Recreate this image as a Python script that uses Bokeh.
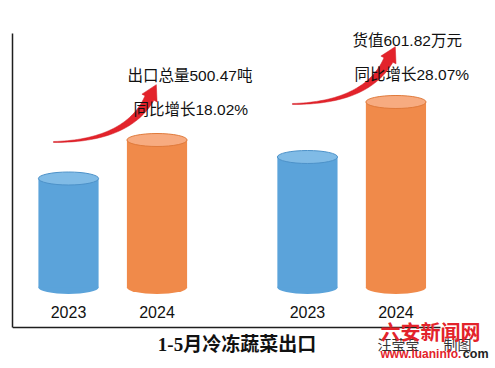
import math
from bokeh.plotting import figure
from bokeh.models import Range1d, FixedTicker, Label, ColumnDataSource
from bokeh.core.properties import value
from bokeh.embed import file_html
from bokeh.resources import INLINE

# ---------------- data ----------------
years = ["2023", "2024"]
qty = [424.06, 500.47]          # 出口总量 (吨): 2024 = 500.47, 2023 = 500.47 / 1.1802
val = [469.92, 601.82]          # 货值 (万元): 2024 = 601.82, 2023 = 601.82 / 1.2807
qty_notes = ["出口总量500.47吨", "同比增长18.02%"]
val_notes = ["货值601.82万元", "同比增长28.07%"]
title_text = "1-5月冷冻蔬菜出口"
credit = ["汪莹莹", "制图"]
site = ["六安新闻网", "www.luaninfo.", "com"]

# ---------------- layout constants ----------------
W, H = 495, 368
FL, FR, FT, FB = 12, 495, 0, 362          # frame edges in page pixels
AXIS_Y = 327                               # baseline (x axis line) in page pixels
X0, XU = 68, 88.5                          # x origin / unit in page pixels
XS, XE = (FL - X0) / XU, (FR - X0) / XU
QS, QE, QBASE = 58.83, 777.39, 207.7       # quantity scale (left group)
VS, VE, VBASE = -22.84, 845.18, 157.0      # value scale (right group)
BW = 0.68
g1 = [0.0, 1.0]
g2 = [2.7, 3.7]

BLUE, BLUE_TOP, BLUE_EDGE = "#5ba3da", "#80bbe6", "#4d92c9"
ORG, ORG_TOP, ORG_EDGE = "#f08a4a", "#f7ab80", "#e07a3b"
RED = "#e3232b"

CJK = "Liberation Sans, Noto Sans CJK SC"


def xd(px):
    return (px - X0) / XU


def yq(py):
    return QS + (FB - py) * (QE - QS) / (FB - FT)


def px_of_q(v):
    return FB - (v - QS) * (FB - FT) / (QE - QS)


def px_of_v(v):
    return FB - (v - VS) * (FB - FT) / (VE - VS)


p = figure(width=W, height=H, x_range=Range1d(XS, XE), y_range=Range1d(QS, QE),
           output_backend="svg", toolbar_location=None,
           min_border=0, min_border_left=FL, min_border_right=W - FR,
           min_border_top=FT, min_border_bottom=H - FB,
           outline_line_color=None, background_fill_color="white",
           border_fill_color="white")
p.extra_y_ranges = {"val": Range1d(VS, VE)}
p.grid.visible = False

for ax, bounds in ((p.xaxis, (XS, xd(440))), (p.yaxis, (yq(AXIS_Y), yq(33)))):
    ax.ticker = FixedTicker(ticks=[])
    ax.major_label_text_font_size = "0px"
    ax.major_label_standoff = 0
    ax.major_tick_in = 0
    ax.major_tick_out = 0
    ax.minor_tick_in = 0
    ax.minor_tick_out = 0
    ax.axis_line_color = "#1e1e1e"
    ax.axis_line_width = 1.5
    ax.bounds = bounds
p.xaxis.fixed_location = yq(AXIS_Y)


# ---------------- cylinders ----------------
def cylinders(xs, vals, base, rname):
    src = ColumnDataSource(dict(x=xs, top=vals, body=[BLUE, ORG],
                                cap=[BLUE_TOP, ORG_TOP], edge=[BLUE_EDGE, ORG_EDGE]))
    kw = {} if rname is None else {"y_range_name": rname}
    p.ellipse(x="x", y=base, width=BW, height=13, height_units="screen",
              fill_color="body", line_color=None, source=src, **kw)
    p.vbar(x="x", top="top", bottom=base, width=BW, fill_color="body",
           line_color=None, source=src, **kw)
    p.ellipse(x="x", y="top", width=BW, height=13, height_units="screen",
              fill_color="cap", line_color="edge", line_width=1, source=src, **kw)


cylinders(g1, qty, QBASE, None)
cylinders(g2, val, VBASE, "val")

# year labels
p.text(x=g1 + g2, y=[yq(311.5)] * 4, text=years + years, text_align="center",
       text_baseline="middle", text_font=value(CJK), text_font_size="16px",
       text_color="#111111")


# ---------------- red arrows ----------------
def arrow(bar_x, bar_top_px):
    bx = X0 + bar_x * XU
    P2 = (bx - 7.5, bar_top_px - 42)
    C = (P2[0] - 22, P2[1] + 43)
    P0 = (P2[0] - 96, P2[1] + 44)
    left, right = [], []
    n = 40
    for i in range(n + 1):
        t = i / n
        bxp = (1 - t) ** 2 * P0[0] + 2 * (1 - t) * t * C[0] + t * t * P2[0]
        byp = (1 - t) ** 2 * P0[1] + 2 * (1 - t) * t * C[1] + t * t * P2[1]
        dx = 2 * (1 - t) * (C[0] - P0[0]) + 2 * t * (P2[0] - C[0])
        dy = 2 * (1 - t) * (C[1] - P0[1]) + 2 * t * (P2[1] - C[1])
        L = math.hypot(dx, dy)
        nx, ny = -dy / L, dx / L
        w = 0.5 + 4.5 * t ** 1.3
        left.append((bxp + nx * w, byp + ny * w))
        right.append((bxp - nx * w, byp - ny * w))
    dx, dy = P2[0] - C[0], P2[1] - C[1]
    L = math.hypot(dx, dy)
    ux, uy = dx / L, dy / L
    nx, ny = -uy, ux
    hw, hl = 8.5, 15
    head = [(P2[0] + nx * hw, P2[1] + ny * hw),
            (P2[0] + ux * hl, P2[1] + uy * hl),
            (P2[0] - nx * hw, P2[1] - ny * hw)]
    pts = left + head + right[::-1]
    p.patch([xd(a) for a, b in pts], [yq(b) for a, b in pts],
            fill_color=RED, line_color="#d01820", line_width=0.5)


arrow(g1[1], px_of_q(qty[1]))
arrow(g2[1], px_of_v(val[1]))

# annotation texts
p.text(x=[xd(127), xd(133), xd(352), xd(354)],
       y=[yq(74.5), yq(109), yq(40), yq(74)],
       text=qty_notes + val_notes, text_align="left", text_baseline="middle",
       text_font=value(CJK), text_font_size="15.5px", text_color="#111111")


# ---------------- title & watermark ----------------
def label(px, py, text, size, color, align="left", style="normal", font=CJK):
    p.add_layout(Label(x=xd(px), y=yq(py), text=text, text_align=align,
                       text_baseline="middle", text_font=font,
                       text_font_size=size, text_color=color,
                       text_font_style=style))


label(236.5, 344, title_text, "19px", "#111111", align="center", style="bold",
      font="Liberation Serif, Noto Sans CJK SC")
label(377, 344, credit[0], "14px", "#333333")
label(443, 344, credit[1], "14px", "#333333")
label(430, 331, site[0], "20px", RED, align="center", style="bold",
      font="Noto Sans CJK SC")
label(380, 353, site[1], "12px", RED, style="bold", font="Liberation Sans")
label(488, 353, site[2], "12.5px", "#222222", align="right", style="bold",
      font="Liberation Sans")

open("out.html", "w").write(file_html(p, INLINE))
